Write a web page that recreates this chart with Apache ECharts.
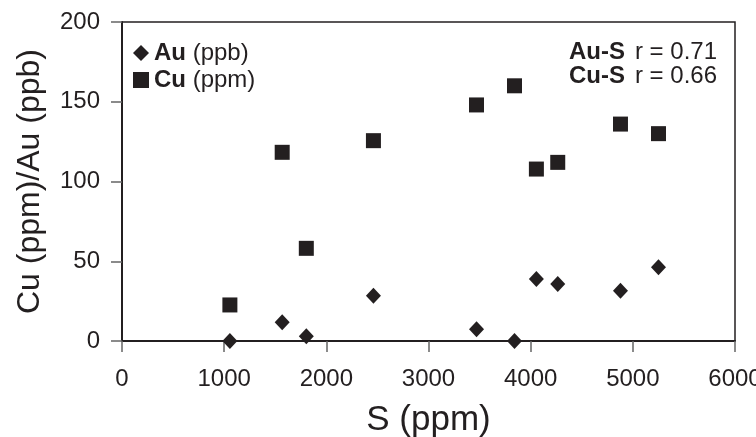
<!DOCTYPE html>
<html>
<head>
<meta charset="utf-8">
<script src="https://cdn.jsdelivr.net/npm/echarts@6/dist/echarts.min.js"></script>
<style>
  html, body { margin: 0; padding: 0; background: #fff; }
  #chart { width: 756px; height: 437px; }
</style>
</head>
<body>
<div id="chart"></div>
<script>
// S (ppm) for each sample
var sData = [1056, 1568, 1804, 2461, 3470, 3842, 4056, 4265, 4879, 5251];
// Au (ppb)
var auData = [0, 11.7, 3, 28.4, 7.3, 0, 38.9, 35.7, 31.5, 46.2];
// Cu (ppm)
var cuData = [22.6, 118.3, 58.1, 125.6, 148, 160, 107.8, 112, 136, 130];
var xTicks = [0, 1000, 2000, 3000, 4000, 5000, 6000];
var yTicks = [0, 50, 100, 150, 200];
var corrLines = [["Au-S", "r = 0.71"], ["Cu-S", "r = 0.66"]];

var ink = "#231f20";
var font = "'Liberation Sans', Arial, sans-serif";

function pairs(ys) {
  return sData.map(function (s, i) { return [s, ys[i]]; });
}

var myChart = echarts.init(document.getElementById("chart"));

var option = {
  animation: false,
  textStyle: { fontFamily: font, color: ink },
  grid: {
    left: 122,
    right: 21,
    top: 22,
    bottom: 96,
    outerBoundsMode: "none",
    containLabel: false,
    show: true,
    borderColor: ink,
    borderWidth: 1.5,
  },
  legend: {
    orient: "vertical",
    left: 128,
    top: 36,
    itemGap: 3,
    itemWidth: 16,
    itemHeight: 16,
    data: [
      { name: "Au", icon: "diamond" },
      { name: "Cu", icon: "rect" },
    ],
    formatter: function (name) {
      return "{b|" + name + "}  {n|" + (name === "Au" ? "(ppb)" : "(ppm)") + "}";
    },
    textStyle: {
      color: ink,
      rich: {
        b: { fontSize: 24, fontWeight: "bold", color: ink, fontFamily: font },
        n: { fontSize: 24, color: ink, fontFamily: font },
      },
    },
  },
  xAxis: {
    type: "value",
    min: 0,
    max: 6000,
    interval: 1000,
    name: "S (ppm)",
    nameLocation: "middle",
    nameGap: 62,
    nameTextStyle: { fontSize: 35, color: ink, fontFamily: font },
    axisLine: { show: true, lineStyle: { color: ink, width: 2 } },
    axisTick: { show: true, length: 11, lineStyle: { color: "#666", width: 1.5 } },
    axisLabel: {
      fontSize: 24,
      color: ink,
      margin: 26,
      formatter: function (v) { return xTicks.indexOf(v) >= 0 ? String(v) : ""; },
    },
    splitLine: { show: false },
  },
  yAxis: {
    type: "value",
    min: 0,
    max: 200,
    interval: 50,
    name: "Cu (ppm)/Au (ppb)",
    nameLocation: "middle",
    nameGap: 76,
    nameTextStyle: { fontSize: 32, color: ink, fontFamily: font },
    axisLine: { show: true, lineStyle: { color: ink, width: 2 } },
    axisTick: { show: true, length: 11, lineStyle: { color: "#666", width: 1.5 } },
    axisLabel: {
      fontSize: 24,
      color: ink,
      margin: 22,
      formatter: function (v) { return yTicks.indexOf(v) >= 0 ? String(v) : ""; },
    },
    splitLine: { show: false },
  },
  graphic: corrLines.map(function (row, i) {
    return {
      type: "text",
      right: 39,
      top: 40 + i * 24,
      style: {
        text: "{b|" + row[0] + "}   {n|" + row[1] + "}",
        align: "right",
        rich: {
          b: { fontSize: 24, fontWeight: "bold", fill: ink, fontFamily: font },
          n: { fontSize: 24, fill: ink, fontFamily: font },
        },
      },
    };
  }),
  series: [
    {
      name: "Au",
      type: "scatter",
      symbol: "diamond",
      symbolSize: [15, 16],
      itemStyle: { color: ink, opacity: 1 },
      data: pairs(auData),
      z: 3,
    },
    {
      name: "Cu",
      type: "scatter",
      symbol: "rect",
      symbolSize: 15,
      itemStyle: { color: ink, opacity: 1 },
      data: pairs(cuData),
      z: 3,
    },
  ],
};

myChart.setOption(option);
</script>
</body>
</html>
